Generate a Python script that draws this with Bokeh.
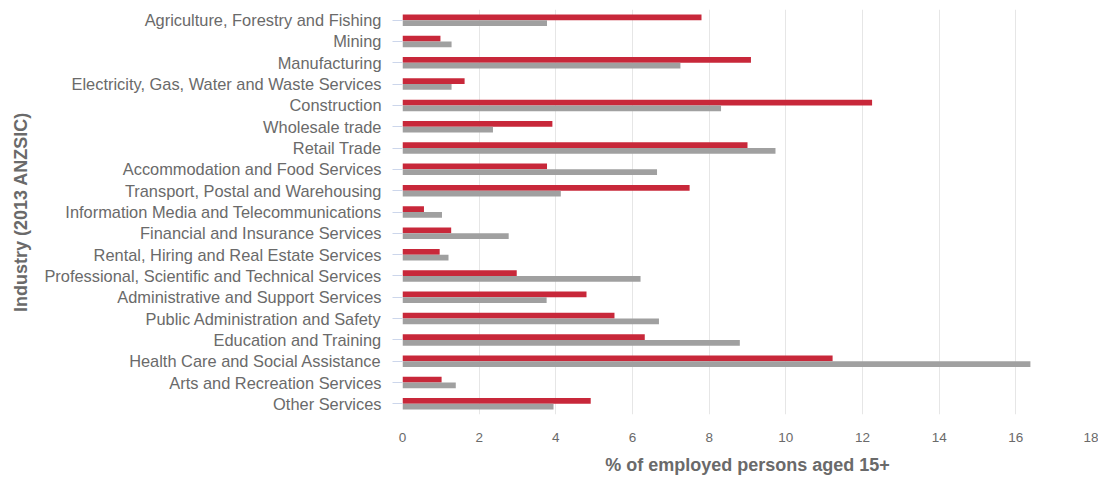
from bokeh.plotting import figure
from bokeh.models import FactorRange, Range1d, FixedTicker, ColumnDataSource
from bokeh.transform import dodge
from bokeh.embed import file_html
from bokeh.resources import INLINE

industries = [
    "Agriculture, Forestry and Fishing",
    "Mining",
    "Manufacturing",
    "Electricity, Gas, Water and Waste Services",
    "Construction",
    "Wholesale trade",
    "Retail Trade",
    "Accommodation and Food Services",
    "Transport, Postal and Warehousing",
    "Information Media and Telecommunications",
    "Financial and Insurance Services",
    "Rental, Hiring and Real Estate Services",
    "Professional, Scientific and Technical Services",
    "Administrative and Support Services",
    "Public Administration and Safety",
    "Education and Training",
    "Health Care and Social Assistance",
    "Arts and Recreation Services",
    "Other Services",
]
red_values = [7.8, 0.99, 9.09, 1.62, 12.25, 3.91, 9.0, 3.77, 7.49, 0.56,
              1.27, 0.97, 2.98, 4.8, 5.53, 6.32, 11.22, 1.02, 4.91]
grey_values = [3.77, 1.28, 7.25, 1.28, 8.31, 2.36, 9.73, 6.64, 4.13, 1.03,
               2.77, 1.2, 6.21, 3.76, 6.69, 8.8, 16.38, 1.39, 3.94]
x_ticks = [0, 2, 4, 6, 8, 10, 12, 14, 16, 18]

RED = "#c8283a"
GREY = "#a0a0a0"
TEXT = "#6a6a6a"
FONT = "Liberation Sans"

source = ColumnDataSource(dict(cat=industries, red=red_values, grey=grey_values))

p = figure(
    y_range=FactorRange(factors=list(reversed(industries)), range_padding=0),
    x_range=Range1d(0, 18),
    frame_width=690, frame_height=405,
    min_border_left=402, min_border_top=9, min_border_right=6, min_border_bottom=40,
    output_backend="svg", toolbar_location=None,
)
p.hbar(y=dodge("cat", 0.135, range=p.y_range), right="red", left=0, height=0.27,
       source=source, fill_color=RED, line_color=None)
p.hbar(y=dodge("cat", -0.135, range=p.y_range), right="grey", left=0, height=0.27,
       source=source, fill_color=GREY, line_color=None)

p.outline_line_color = None
p.ygrid.grid_line_color = None
p.xgrid.grid_line_color = "#e6e6e6"
p.xgrid.ticker = FixedTicker(ticks=x_ticks)

xa = p.xaxis[0]
xa.ticker = FixedTicker(ticks=x_ticks)
xa.axis_line_color = None
xa.major_tick_line_color = None
xa.minor_tick_line_color = None
xa.major_label_standoff = 12
xa.major_label_text_font = FONT
xa.major_label_text_font_size = "13.5px"
xa.major_label_text_color = TEXT
xa.axis_label = "% of employed persons aged 15+"
xa.axis_label_text_font = FONT
xa.axis_label_text_font_size = "18px"
xa.axis_label_text_font_style = "bold"
xa.axis_label_text_color = TEXT
xa.axis_label_standoff = 10

ya = p.yaxis[0]
ya.axis_line_color = None
ya.major_tick_line_color = "#ccd6eb"
ya.major_tick_out = 10
ya.major_tick_in = 0
ya.major_label_standoff = 11
ya.major_label_text_font = FONT
ya.major_label_text_font_size = "16.4px"
ya.major_label_text_color = TEXT
ya.axis_label = "Industry (2013 ANZSIC)"
ya.axis_label_text_font = FONT
ya.axis_label_text_font_size = "18px"
ya.axis_label_text_font_style = "bold"
ya.axis_label_text_color = TEXT
ya.axis_label_standoff = 10

open("out.html", "w").write(file_html(p, INLINE))
